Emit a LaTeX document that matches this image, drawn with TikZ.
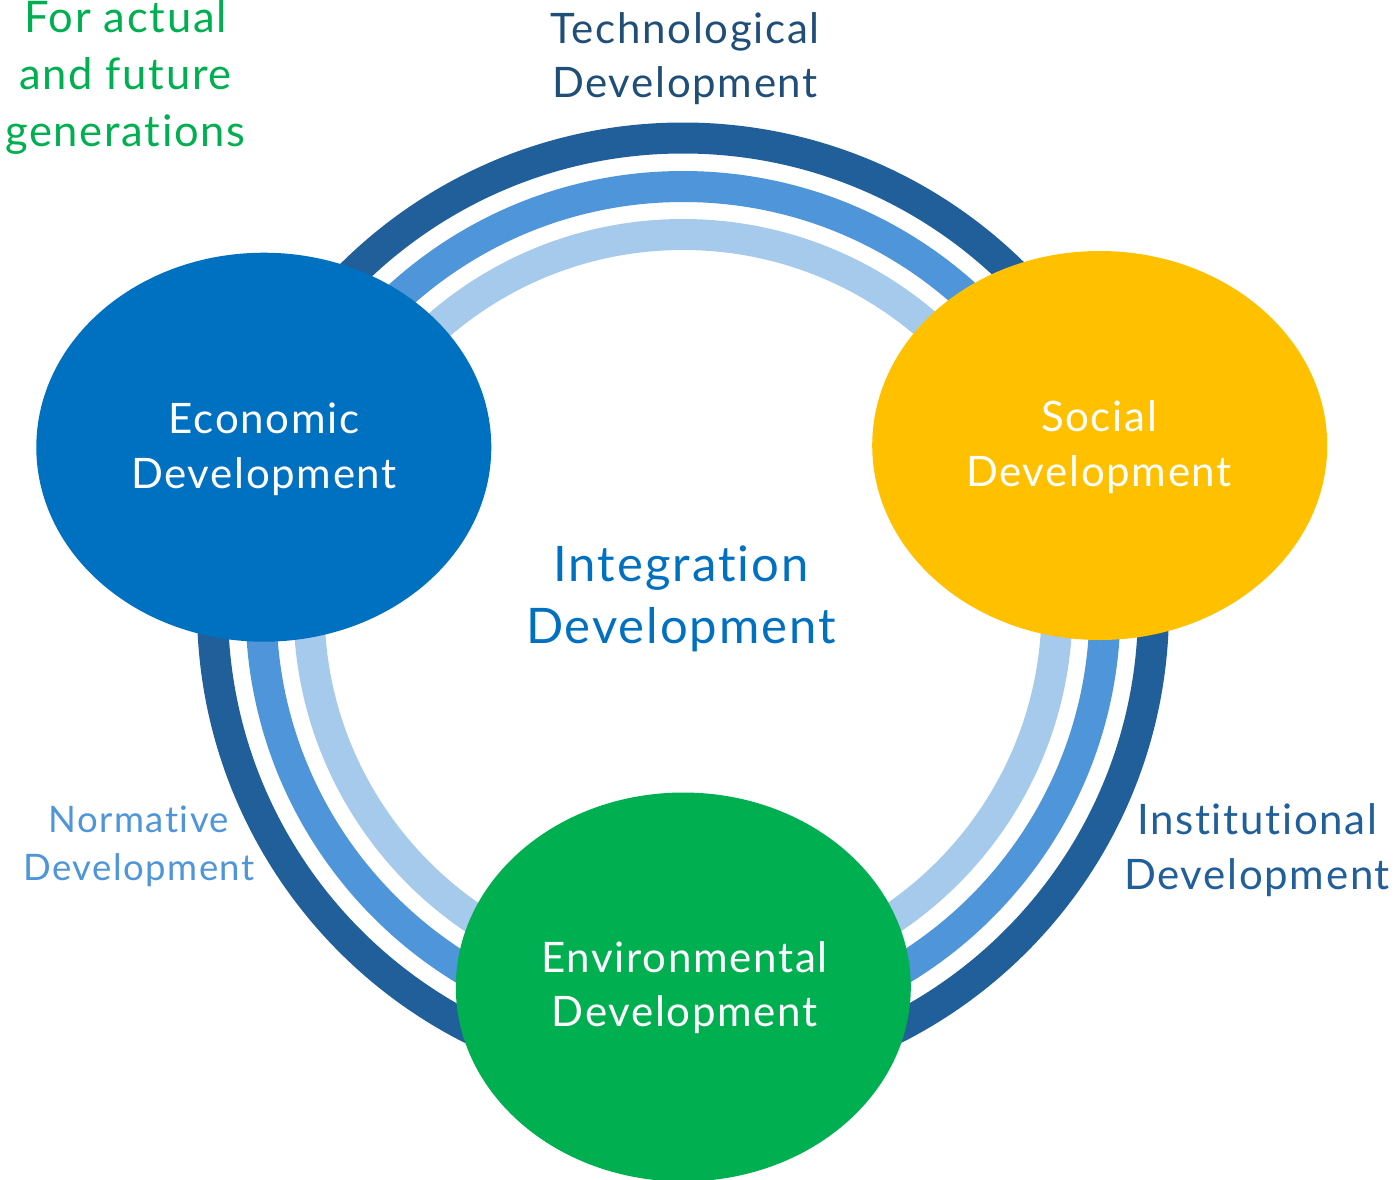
\documentclass[tikz,border=0pt]{standalone}
\usepackage{fontspec}
\setmainfont{Lato}[LetterSpace=4, Ligatures={NoCommon,NoContextual,NoRare}]
\usetikzlibrary{shapes.geometric}

\definecolor{ringdark}{HTML}{215F9A}
\definecolor{ringmid}{HTML}{4E95D9}
\definecolor{ringlight}{HTML}{A6CAEC}
\definecolor{econblue}{HTML}{0070C0}
\definecolor{socgold}{HTML}{FFC000}
\definecolor{envgreen}{HTML}{00B050}
\definecolor{technavy}{HTML}{1F4E79}

\begin{document}
\begin{tikzpicture}[x=1pt, y=-1pt,
  blob/.style={ellipse, inner sep=0pt, minimum width=455pt, minimum height=389pt},
  % multi-line texts are placed by the baseline of their last line
  txt/.style={align=center, anchor=base, inner sep=0pt},
  bigtxt/.style={txt, font=\fontsize{42}{55}\selectfont},
  ring/.style={line width=31pt}
]
\useasboundingbox (0,0) rectangle (1395,1179);

% three concentric rings
\coordinate (hub) at (683,608.5);
\draw[ring, ringdark]  (hub) circle[radius=470.5];
\draw[ring, ringmid]   (hub) circle[radius=422];
\draw[ring, ringlight] (hub) circle[radius=374];

% the three pillars
\node[blob, fill=econblue] (econ) at (263.8,447.2) {};
\node[blob, fill=socgold]  (soc)  at (1099.7,445.5) {};
\node[blob, fill=envgreen] (env)  at (683.3,987) {};

% texts
\node[bigtxt, text=white] (econtxt) at (264,488.3) {Economic\\Development};
\node[bigtxt, text=white] (soctxt) at (1099,486.7) {Social\\Development};
\node[bigtxt, text=white, font=\fontsize{42}{54}\selectfont] (envtxt) at (684.5,1026.5) {Environmental\\Development};
\node[bigtxt, text=technavy, font=\fontsize{42}{54}\selectfont] (techtxt) at (685,97.3) {Technological\\Development};
\node[bigtxt, text=ringdark] (insttxt) at (1257,889.3) {Institutional\\Development};
\node[txt, text=ringmid, font=\fontsize{36.5}{48}\selectfont] (normtxt) at (139,880) {Normative\\Development};
\node[txt, text=econblue, font=\fontsize{49}{62}\selectfont] (integtxt) at (681,643.3) {Integration\\Development};
\node[bigtxt, text=envgreen, font=\fontsize{43.5}{57}\selectfont] (futuretxt) at (125.5,146.7) {For actual\\and future\\generations};
\end{tikzpicture}
\end{document}
